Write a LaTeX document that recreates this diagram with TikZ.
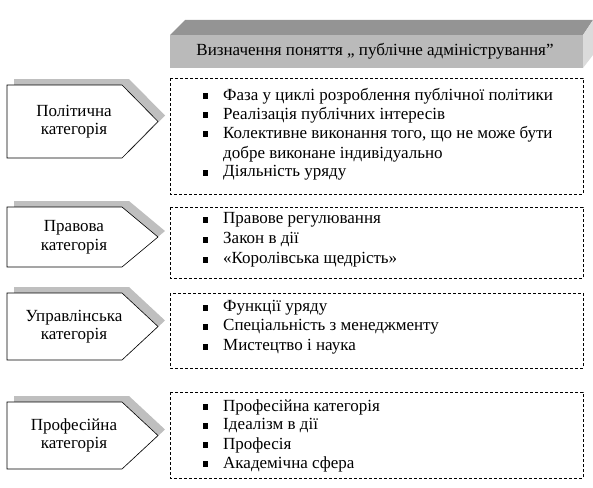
\documentclass[tikz,border=0pt]{standalone}
\usepackage{fontspec}
\setmainfont{Liberation Serif}
\newfontfamily\tnr{Liberation Serif}
\begin{document}
\begin{tikzpicture}[x=1pt,y=-1pt,
  txt/.style={font=\tnr\fontsize{17}{19}\selectfont, inner sep=0pt},
  item/.style={txt, anchor=west},
  cat/.style={font=\tnr\fontsize{17}{18.5}\selectfont, align=center, inner sep=0pt},
  dbox/.style={draw, line width=0.6pt, dash pattern=on 3pt off 2pt},
  shadowfill/.style={fill=black!25, draw=none},
  pent/.style={fill=white, draw, line width=0.6pt},
  bul/.style={fill=black, draw=none, minimum size=5.5pt, inner sep=0pt, rectangle}]
\useasboundingbox (0,0) rectangle (593,487);
% header 3D box
\fill[black!42] (170,35) -- (185,20) -- (593,20) -- (583,35) -- cycle;
\fill[black!14] (583,35) -- (593,20) -- (593,55) -- (583,68) -- cycle;
\fill[black!27] (170,35) rectangle (583,68);
\node[txt] (head) at (375,51) {Визначення поняття „ публічне адміністрування”};
% pentagon macro
\newcommand{\mypent}[4]{% name, top, bottom, text
  \fill[shadowfill] (14,#2-6) -- (129,#2-6) -- ({165},{(#2+#3)/2-6}) -- (129,#3-6) -- (14,#3-6) -- cycle;
  \draw[pent] (7,#2) -- (122,#2) -- (158,{(#2+#3)/2}) -- (122,#3) -- (7,#3) -- cycle;
  \node[cat] (#1) at (74,{(#2+#3)/2}) {#4};
}
\mypent{c1}{85}{158}{Політична\\категорія}
\mypent{c2}{207}{267}{Правова\\категорія}
\mypent{c3}{293}{360}{Управлінська\\категорія}
\mypent{c4}{402}{469}{Професійна\\категорія}
% dashed boxes
\draw[dbox] (170,78) rectangle (583,194);
\draw[dbox] (170,207) rectangle (583,278);
\draw[dbox] (170,293) rectangle (583,368);
\draw[dbox] (170,392) rectangle (583,478);
% items
\newcommand{\bitem}[3]{% name, y, text
  \node[bul] (#1b) at (205.5,#2) {};
  \node[item] (#1) at (223,#2) {#3};
}
\bitem{a1}{96}{Фаза у циклі розроблення публічної політики}
\bitem{a2}{115}{Реалізація публічних інтересів}
\bitem{a3}{134}{Колективне виконання того, що не може бути}
\node[item] (a3b2) at (223,154) {добре виконане індивідуально};
\bitem{a4}{173}{Діяльність уряду}
\bitem{b1}{220}{Правове регулювання}
\bitem{b2}{240}{Закон в дії}
\bitem{b3}{260}{«Королівська щедрість»}
\bitem{d1}{308}{Функції уряду}
\bitem{d2}{327}{Спеціальність з менеджменту}
\bitem{d3}{347}{Мистецтво і наука}
\bitem{e1}{407}{Професійна категорія}
\bitem{e2}{426}{Ідеалізм в дії}
\bitem{e3}{445}{Професія}
\bitem{e4}{464}{Академічна сфера}
\end{tikzpicture}
\end{document}
